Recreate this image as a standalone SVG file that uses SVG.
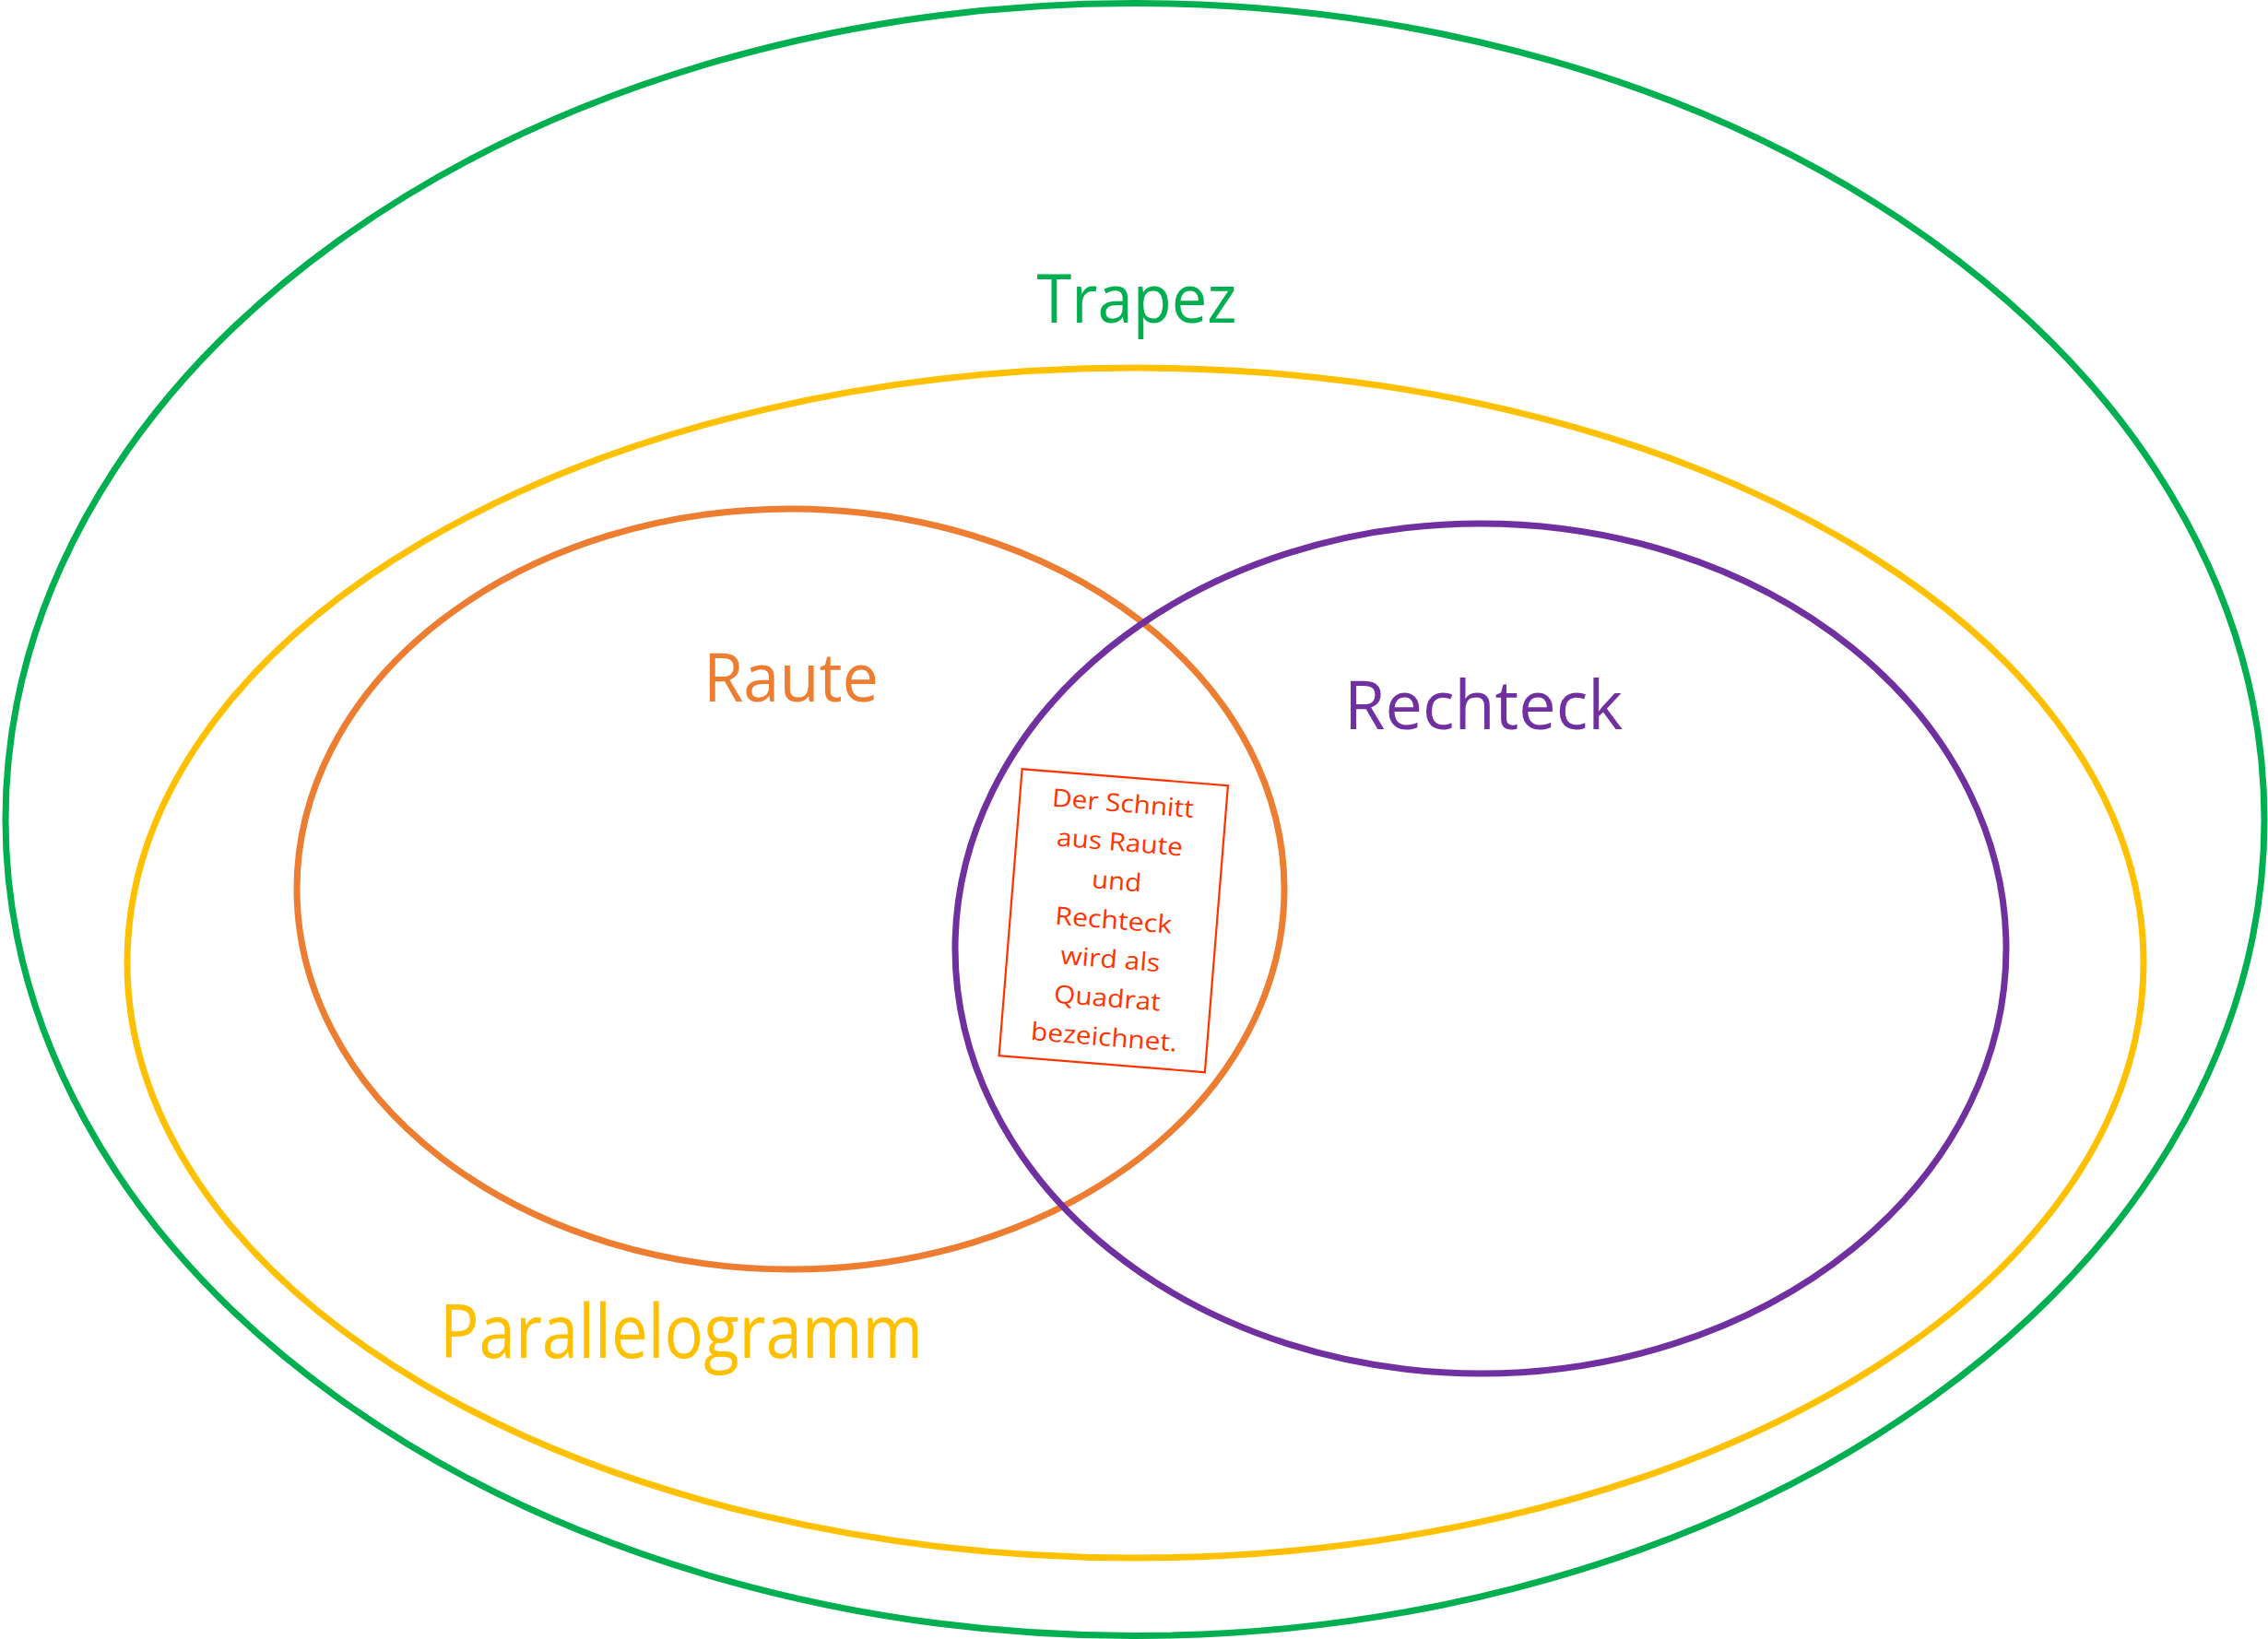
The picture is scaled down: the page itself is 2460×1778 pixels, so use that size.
<svg xmlns="http://www.w3.org/2000/svg" width="2460" height="1778" viewBox="0 0 2460 1778">
<style>
.set{fill:none;stroke-width:7}
.lbl{font-family:"Open Sans","Noto Sans","Liberation Sans",sans-serif;font-size:73px;text-anchor:middle}
.note{font-family:"Open Sans","Noto Sans","Liberation Sans",sans-serif;font-size:27px;text-anchor:middle;fill:#FF3300}
</style>
<rect width="2460" height="1778" fill="#FFFFFF"/>
<g id="trapez">
<ellipse class="set" cx="1231" cy="889" rx="1225" ry="885.5" stroke="#00B050"/>
<text class="lbl" x="1233" y="350" fill="#00B050" textLength="217" lengthAdjust="spacingAndGlyphs">Trapez</text>
</g>
<g id="parallelogramm">
<ellipse class="set" cx="1231.5" cy="1044.5" rx="1093.5" ry="645.5" stroke="#FFC000"/>
<text class="lbl" x="739" y="1473" fill="#FFC000" style="font-size:80px" textLength="524" lengthAdjust="spacingAndGlyphs">Parallelogramm</text>
</g>
<g id="raute">
<ellipse class="set" cx="857.5" cy="964.5" rx="535.5" ry="412.5" stroke="#ED7D31"/>
<text class="lbl" x="858" y="761" fill="#ED7D31" textLength="190" lengthAdjust="spacingAndGlyphs">Raute</text>
</g>
<g id="rechteck">
<ellipse class="set" cx="1606" cy="1029" rx="570" ry="461" stroke="#7030A0"/>
<text class="lbl" x="1609" y="791" fill="#7030A0" textLength="302" lengthAdjust="spacingAndGlyphs">Rechteck</text>
</g>
<g id="quadrat" transform="translate(1207.75 998.75) rotate(4.6)">
<rect x="-112" y="-156" width="224" height="312" fill="#FFFFFF" stroke="#FF3300" stroke-width="2.2"/>
<text class="note" x="0" y="-118.4" textLength="154" lengthAdjust="spacingAndGlyphs">Der Schnitt</text>
<text class="note" x="0" y="-76" textLength="137" lengthAdjust="spacingAndGlyphs">aus Raute</text>
<text class="note" x="0" y="-33.6" textLength="54" lengthAdjust="spacingAndGlyphs">und</text>
<text class="note" x="0" y="8.8" textLength="127" lengthAdjust="spacingAndGlyphs">Rechteck</text>
<text class="note" x="0" y="51.2" textLength="108" lengthAdjust="spacingAndGlyphs">wird als</text>
<text class="note" x="0" y="93.6" textLength="116" lengthAdjust="spacingAndGlyphs">Quadrat</text>
<text class="note" x="0" y="136" textLength="159" lengthAdjust="spacingAndGlyphs">bezeichnet.</text>
</g>
<g id="connectors"></g>
</svg>
